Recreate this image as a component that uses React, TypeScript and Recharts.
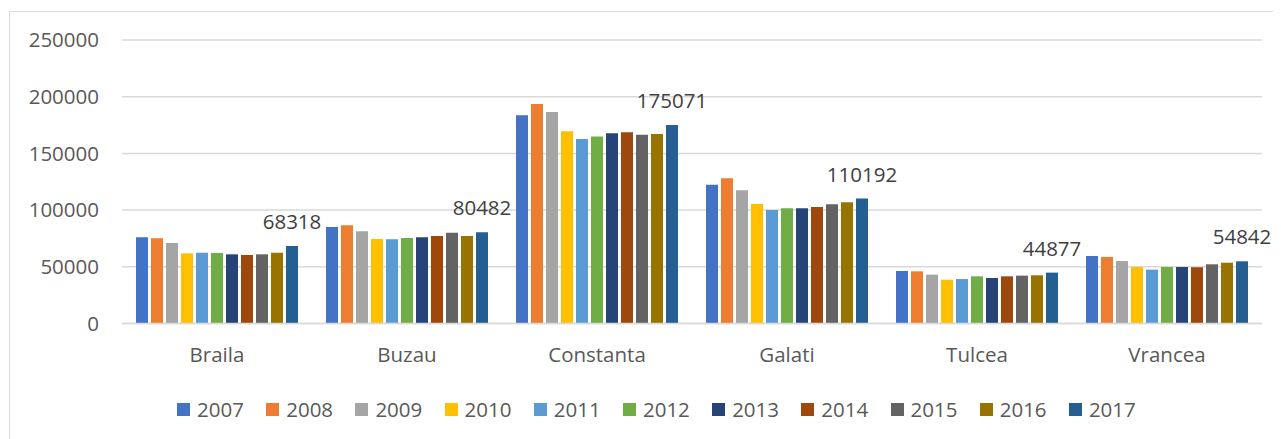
import React from "react"
import { BarChart, Bar, XAxis, YAxis, CartesianGrid, Legend, LabelList } from "recharts"

const counties = ["Braila", "Buzau", "Constanta", "Galati", "Tulcea", "Vrancea"]
const years = ["2007", "2008", "2009", "2010", "2011", "2012", "2013", "2014", "2015", "2016", "2017"]

// values per year, in county order
const v2007 = [76000, 85100, 183600, 122400, 46300, 59500]
const v2008 = [75100, 86600, 193600, 128000, 46000, 58700]
const v2009 = [71000, 81300, 186500, 117500, 43100, 55100]
const v2010 = [61900, 74500, 169500, 105400, 38600, 49800]
const v2011 = [62400, 74300, 162700, 100100, 39200, 47500]
const v2012 = [62200, 75400, 165000, 101600, 41600, 49800]
const v2013 = [61000, 76000, 167700, 101600, 40100, 49800]
const v2014 = [60400, 77200, 168600, 102800, 41600, 49600]
const v2015 = [61000, 80100, 166500, 105100, 42200, 52200]
const v2016 = [62400, 77200, 167100, 106900, 42500, 53600]
const v2017 = [68318, 80482, 175071, 110192, 44877, 54842]

const yTicks = [0, 50000, 100000, 150000, 200000, 250000]

const colors = ["#4472C4", "#ED7D31", "#A5A5A5", "#FFC000", "#5B9BD5", "#70AD47", "#264478", "#9E480E", "#636363", "#997300", "#255E91"]

const seriesValues = [v2007, v2008, v2009, v2010, v2011, v2012, v2013, v2014, v2015, v2016, v2017]

const data = counties.map((name, i) => {
  const row: Record<string, string | number> = { name }
  years.forEach((y, j) => {
    row[y] = seriesValues[j][i]
  })
  return row
})

const font = "'Open Sans', sans-serif"

function LegendContent() {
  return (
    <div style={{ display: "flex", fontFamily: font, fontSize: 20.5, color: "#595959" }}>
      {years.map((y, i) => (
        <div key={y} style={{ width: 89.2, display: "flex", alignItems: "center", height: 14 }}>
          <div style={{ width: 13, height: 13, backgroundColor: colors[i], marginRight: 7, flexShrink: 0 }} />
          <span style={{ lineHeight: "14px" }}>{y}</span>
        </div>
      ))}
    </div>
  )
}

export default function App() {
  return (
    <div style={{ position: "relative", width: 1273, height: 431, overflow: "hidden", background: "#fff" }}>
      <div
        style={{
          position: "absolute",
          left: 1,
          top: 3,
          width: 1320,
          height: 480,
          border: "1.5px solid #d9d9d9",
        }}
      />
      <div style={{ position: "absolute", left: 0, top: 0 }}>
        <BarChart
          width={1273}
          height={431}
          data={data}
          margin={{ top: 32, right: 19, bottom: 55.5, left: 0 }}
          barGap={3}
          barCategoryGap={14}
        >
          <CartesianGrid vertical={false} stroke="#d9d9d9" strokeWidth={1.5} />
          <XAxis
            dataKey="name"
            height={60}
            tickLine={false}
            tickSize={0}
            tickMargin={24}
            axisLine={{ stroke: "#d9d9d9", strokeWidth: 1.5 }}
            tick={{ fill: "#595959", fontSize: 20.5, fontFamily: font }}
          />
          <YAxis
            width={114}
            domain={[0, 250000]}
            ticks={yTicks}
            interval={0}
            axisLine={false}
            tickLine={false}
            tickSize={0}
            tickMargin={23}
            tick={{ fill: "#595959", fontSize: 20.5, fontFamily: font }}
          />
          <Legend
            layout="horizontal"
            verticalAlign="middle"
            content={<LegendContent />}
            wrapperStyle={{ top: 394, left: 169, width: 1000 }}
          />
          {years.map((y, i) => (
            <Bar key={y} dataKey={y} fill={colors[i]} isAnimationActive={false}>
              {y === "2017" ? (
                <LabelList
                  dataKey={y}
                  position="top"
                  offset={17}
                  fill="#404040"
                  fontSize={20.5}
                  fontFamily={font}
                />
              ) : null}
            </Bar>
          ))}
        </BarChart>
      </div>
    </div>
  )
}
